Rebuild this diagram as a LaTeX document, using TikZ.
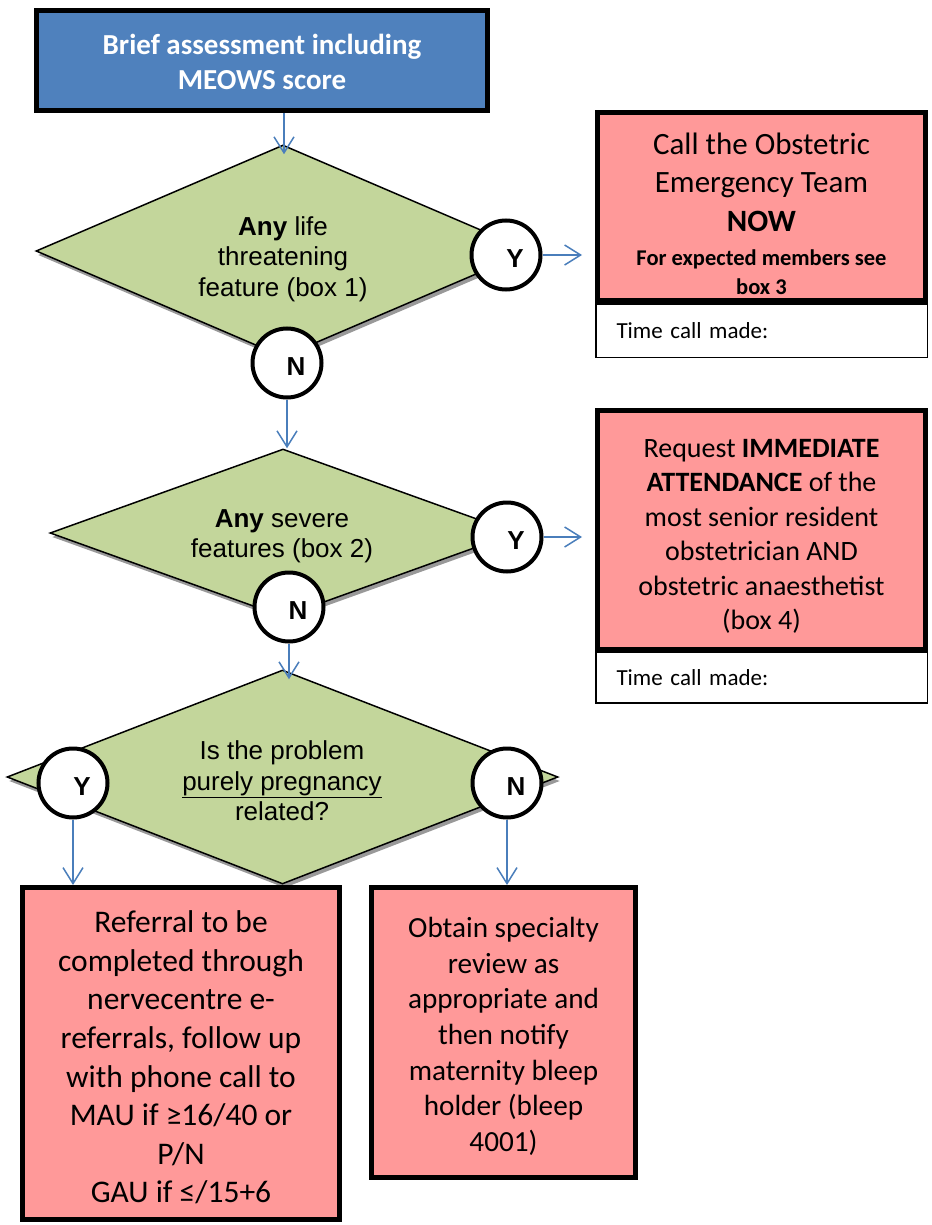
\documentclass[tikz,border=0pt]{standalone}
\usepackage{fontspec}
\setmainfont{Carlito}
\newfontfamily\arialf{Liberation Sans}
\usetikzlibrary{shapes.geometric,arrows.meta,shadows,calc}
\definecolor{hdrblue}{RGB}{79,129,189}
\definecolor{alertred}{RGB}{255,153,153}
\definecolor{decgreen}{RGB}{195,214,155}
\definecolor{arrblue}{RGB}{74,126,187}
\begin{document}
\begin{tikzpicture}[x=1pt,y=-1pt,
  hdr/.style={rectangle, draw=black, line width=5pt, fill=hdrblue, text=white,
    font=\bfseries\fontsize{29}{35}\selectfont, align=center, inner sep=0pt},
  redbox/.style={rectangle, draw=black, line width=5pt, fill=alertred, align=center, inner sep=0pt},
  timebox/.style={rectangle, draw=black, line width=1.5pt, fill=white, inner xsep=20pt, inner ysep=0pt,
    text width=290pt, align=left, font=\fontsize{23}{27}\selectfont},
  dec/.style={diamond, draw=black, line width=1.5pt, fill=decgreen, inner sep=0pt,
    drop shadow={shadow xshift=2pt,shadow yshift=-4pt,fill=black!40,opacity=1}},
  dectext/.style={font=\arialf\fontsize{26}{30.5}\selectfont, align=center, inner sep=0pt},
  yn/.style={circle, draw=black, line width=4pt, fill=white, minimum size=69pt, inner sep=0pt},
  ynl/.style={font=\arialf\bfseries\fontsize{26}{26}\selectfont, inner sep=0pt, shift={(9,4)}},
  arr/.style={draw=arrblue, line width=1.5pt, -{Straight Barb[length=16pt,width=20pt]}}
]
\useasboundingbox (0,0) rectangle (931,1225);

% header
\node[hdr, minimum width=451pt, minimum height=100pt] (start) at (262,60.5)
  {\rule{0pt}{24pt}Brief assessment including\\MEOWS score};

% decision diamonds
\node[dec, minimum width=494pt, minimum height=212pt] (d1) at (283,251) {};
\node[dectext] (d1t) at (283,259) {\textbf{Any} life\\threatening\\feature (box 1)};

\node[dec, minimum width=466pt, minimum height=168pt] (d2) at (283,533) {};
\node[dectext] (d2t) at (282,536) {\textbf{Any} severe\\features (box 2)};

\node[dec, minimum width=551pt, minimum height=214pt] (d3) at (282.5,777) {};
\node[dectext] (d3t) at (282,781) {Is the problem\\\underline{purely pregnancy}\\related?};

% Y / N circles
\node[yn, label={[ynl, name=y1l]center:Y}] (y1) at (506,255) {};
\node[yn, label={[ynl, name=n1l]center:N}] (n1) at (287,363) {};
\node[yn, label={[ynl, name=y2l]center:Y}] (y2) at (507,537) {};
\node[yn, label={[ynl, name=n2l]center:N}] (n2) at (289,607) {};
\node[yn, label={[ynl, name=y3l]center:Y}] (y3) at (73,783) {};
\node[yn, label={[ynl, name=n3l]center:N}] (n3) at (507,783) {};

% right-hand action boxes
\node[timebox, minimum width=331.5pt, minimum height=53.5pt] (t1) at (761.5,330.5) {Time call made:};
\node[redbox, minimum width=328pt, minimum height=188pt, font=\fontsize{31}{38.5}\selectfont] (box1) at (761.5,206.5)
  {\rule{0pt}{36pt}Call the Obstetric\\Emergency Team\\\textbf{NOW}\\[-4pt]{\bfseries\fontsize{22.5}{25}\selectfont For expected members see}\\[-10pt]{\bfseries\fontsize{22.5}{25}\selectfont box 3}};

\node[timebox, minimum width=331.5pt, minimum height=51pt] (t2) at (761.5,677.5) {Time call made:};
\node[redbox, minimum width=328pt, minimum height=239pt, font=\fontsize{28}{34.5}\selectfont] (box2) at (761.5,530)
  {\rule{0pt}{31pt}Request \textbf{IMMEDIATE}\\\textbf{ATTENDANCE} of the\\most senior resident\\obstetrician AND\\obstetric anaesthetist\\(box 4)};

% bottom boxes
\node[redbox, minimum width=317pt, minimum height=332pt, font=\fontsize{31.5}{38.6}\selectfont] (botL) at (181,1053.5)
  {\rule{0pt}{30pt}Referral to be\\completed through\\nervecentre e-\\referrals, follow up\\with phone call to\\MAU if ≥16/40 or\\P/N\\GAU if ≤/15+6};
\node[redbox, minimum width=264pt, minimum height=290pt, font=\fontsize{29.2}{35.7}\selectfont] (botR) at (503.5,1032.5)
  {\rule{0pt}{28pt}Obtain specialty\\review as\\appropriate and\\then notify\\maternity bleep\\holder (bleep\\4001)};

% connectors
\draw[arr] ($(start.south -| d1.north)+(1,0)$) -- ($(d1.north)+(1,10)$);
\draw[arr] (y1.east) -- ($(box1.west |- y1.east)+(-13,0)$);
\draw[arr] (n1.south) -- (n1.south |- d2.north);
\draw[arr] (y2.east) -- ($(box2.west |- y2.east)+(-13,0)$);
\draw[arr] (n2.south) -- ($(n2.south |- d3.north)+(0,10)$);
\draw[arr] (y3.south) -- (y3.south |- botL.north);
\draw[arr] (n3.south) -- (n3.south |- botR.north);
\end{tikzpicture}
\end{document}
